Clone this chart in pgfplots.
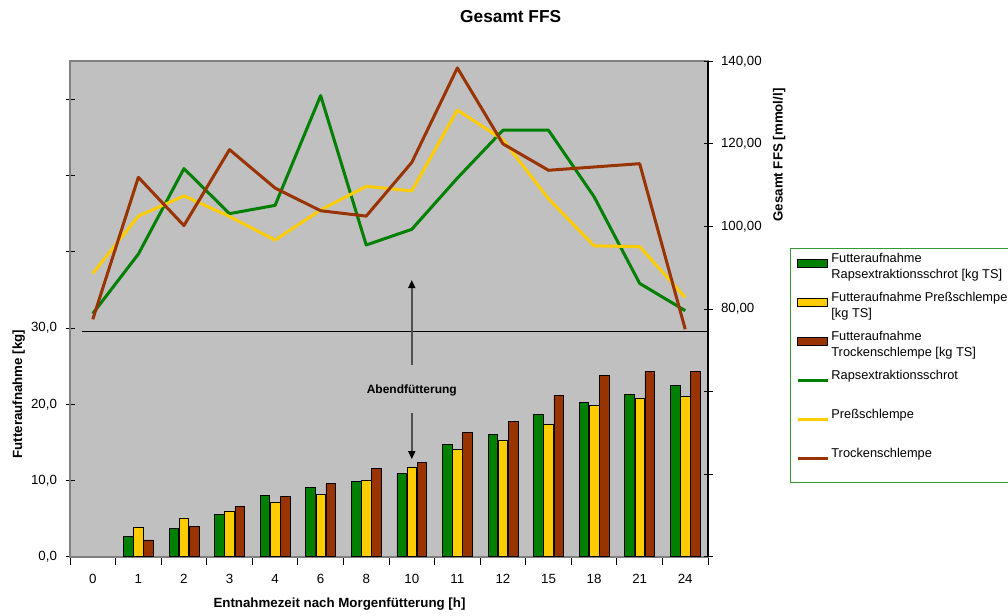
\documentclass[border=0pt]{standalone}
\usepackage{fontspec}
\setmainfont{Liberation Sans}
\usepackage{pgfplots}
\pgfplotsset{compat=1.18}
\usetikzlibrary{arrows.meta}

\definecolor{plotgray}{HTML}{C0C0C0}
\definecolor{axisgray}{HTML}{808080}
\definecolor{rapsgreen}{HTML}{008000}
\definecolor{pressyellow}{HTML}{FFCC00}
\definecolor{trockenbrown}{HTML}{993300}
\definecolor{legendgreen}{HTML}{339933}
\definecolor{arrowgray}{HTML}{505050}

\newcommand{\ticksize}{\fontsize{13.3}{16}\selectfont}

\begin{document}
\begin{tikzpicture}[x=1pt,y=1pt]
\clip (0,0) rectangle (1008,615);

% --- feed intake (left axis, bars) ---
\begin{axis}[
  at={(70pt,58.3pt)}, anchor=south west,
  scale only axis, width=638pt, height=495.4pt,
  xmin=-0.5, xmax=13.5, ymin=0, ymax=65,
  axis background/.style={fill=plotgray},
  axis line style={draw=axisgray, line width=1.6pt},
  tick pos=left, tick align=center,
  major tick length=9pt, minor tick length=8pt,
  tick style={draw=black, line width=0.9pt},
  xtick={0,...,13},
  xticklabels={0,1,2,3,4,6,8,10,11,12,15,18,21,24},
  major x tick style={draw=none},
  minor xtick={-0.5,0.5,...,13.5},
  ytick={0,10,...,60},
  yticklabels={{0,0},{10,0},{20,0},{30,0},{},{},{}},
  ticklabel style={font=\ticksize, text=black},
  yticklabel style={xshift=-5pt},
  xticklabel style={yshift=-5pt},
  ybar=0.5pt, bar width=9.6pt,
  clip=false,
]
\addplot[fill=rapsgreen, draw=black, line width=0.6pt] table {
x y
1 2.7
2 3.7
3 5.6
4 8.0
5 9.1
6 9.9
7 10.9
8 14.7
9 16.0
10 18.7
11 20.2
12 21.3
13 22.5
};
\addplot[fill=pressyellow, draw=black, line width=0.6pt] table {
x y
1 3.8
2 5.1
3 5.9
4 7.2
5 8.2
6 10.0
7 11.7
8 14.1
9 15.3
10 17.4
11 19.9
12 20.8
13 21.0
};
\addplot[fill=trockenbrown, draw=black, line width=0.6pt] table {
x y
1 2.2
2 4.0
3 6.6
4 7.9
5 9.6
6 11.6
7 12.4
8 16.3
9 17.7
10 21.2
11 23.8
12 24.3
13 24.3
};
% separator between the two panels
\draw[black, line width=0.9pt] (axis cs:-0.24,29.6) -- (axis cs:13.5,29.6);
% evening feeding marker
\node[font=\bfseries\fontsize{12}{14}\selectfont] at (axis cs:7,21.8) {Abendfütterung};
\draw[arrowgray, line width=1.5pt, -{Triangle[length=8pt,width=7pt,color=black]}]
  (axis cs:7,18.9) -- (axis cs:7,12.8);
\draw[arrowgray, line width=1.5pt, -{Triangle[length=8pt,width=7pt,color=black]}]
  (axis cs:7,25.1) -- (axis cs:7,36.3);
\end{axis}

% --- total VFA (right axis, lines) ---
\begin{axis}[
  at={(70pt,58.3pt)}, anchor=south west,
  scale only axis, width=638pt, height=495.4pt,
  xmin=-0.5, xmax=13.5, ymin=20, ymax=140,
  axis x line=none, axis y line*=right,
  y axis line style={draw=black, line width=1.2pt, -},
  xtick=\empty,
  tick align=center, major tick length=9pt,
  ytick style={draw=black, line width=0.9pt},
  ytick={20,40,...,140},
  yticklabels={{},{},{},{80,00},{100,00},{120,00},{140,00}},
  ticklabel style={font=\ticksize, text=black},
  yticklabel style={xshift=5pt},
  legend style={
    at={(1.1285,0.6231)}, anchor=north west,
    draw=legendgreen, line width=0.8pt, fill=white,
    inner xsep=6pt, inner ysep=4pt,
    font=\fontsize{12.8}{16.5}\selectfont,
    row sep=8pt, column sep=2pt,
    cells={anchor=base west},
    nodes={inner sep=0pt, text height=10pt, text depth=21pt},
  },
  legend cell align=left,
]
\addlegendimage{legend image code/.code={\draw[fill=rapsgreen,draw=black,line width=0.8pt] (0pt,0.5pt) rectangle (30pt,8.5pt);}}
\addlegendentry{\parbox[t]{176pt}{Futteraufnahme\\Rapsextraktionsschrot [kg TS]}}
\addlegendimage{legend image code/.code={\draw[fill=pressyellow,draw=black,line width=0.8pt] (0pt,0.5pt) rectangle (30pt,8.5pt);}}
\addlegendentry{\parbox[t]{176pt}{Futteraufnahme Preßschlempe\\{}[kg TS]}}
\addlegendimage{legend image code/.code={\draw[fill=trockenbrown,draw=black,line width=0.8pt] (0pt,0.5pt) rectangle (30pt,8.5pt);}}
\addlegendentry{\parbox[t]{176pt}{Futteraufnahme\\Trockenschlempe [kg TS]}}

\addplot[rapsgreen, line width=3pt, line join=round, mark=none,
  legend image code/.code={\draw[rapsgreen,line width=3pt] (0pt,4pt) -- (30pt,4pt);}] table {
x y
0 78.9
1 93.3
2 114.0
3 103.1
4 105.1
5 131.7
6 95.5
7 99.3
8 111.7
9 123.3
10 123.3
11 107.2
12 86.2
13 79.6
};
\addlegendentry{Rapsextraktionsschrot}
\addplot[pressyellow, line width=3pt, line join=round, mark=none,
  legend image code/.code={\draw[pressyellow,line width=3pt] (0pt,4pt) -- (30pt,4pt);}] table {
x y
0 88.6
1 102.5
2 107.4
3 102.4
4 96.7
5 104.0
6 109.7
7 108.6
8 128.2
9 121.0
10 106.7
11 95.3
12 95.1
13 82.8
};
\addlegendentry{Preßschlempe}
\addplot[trockenbrown, line width=3pt, line join=round, mark=none,
  legend image code/.code={\draw[trockenbrown,line width=3pt] (0pt,4pt) -- (30pt,4pt);}] table {
x y
0 77.5
1 111.9
2 100.2
3 118.6
4 109.3
5 103.8
6 102.5
7 115.5
8 138.4
9 120.0
10 113.6
11 114.4
12 115.2
13 75.1
};
\addlegendentry{Trockenschlempe}
\end{axis}

% titles and axis labels
\node[anchor=base, font=\bfseries\fontsize{17.3}{20}\selectfont] at (510.7,592.3) {Gesamt FFS};
\node[anchor=base, font=\bfseries\fontsize{13.3}{16}\selectfont] at (339.5,7) {Entnahmezeit nach Morgenfütterung [h]};
\node[anchor=base, rotate=90, font=\bfseries\fontsize{13.3}{16}\selectfont] at (22,221) {Futteraufnahme [kg]};
\node[anchor=base, rotate=90, font=\bfseries\fontsize{13.3}{16}\selectfont] at (782.5,460) {Gesamt FFS [mmol/l]};
\end{tikzpicture}
\end{document}
